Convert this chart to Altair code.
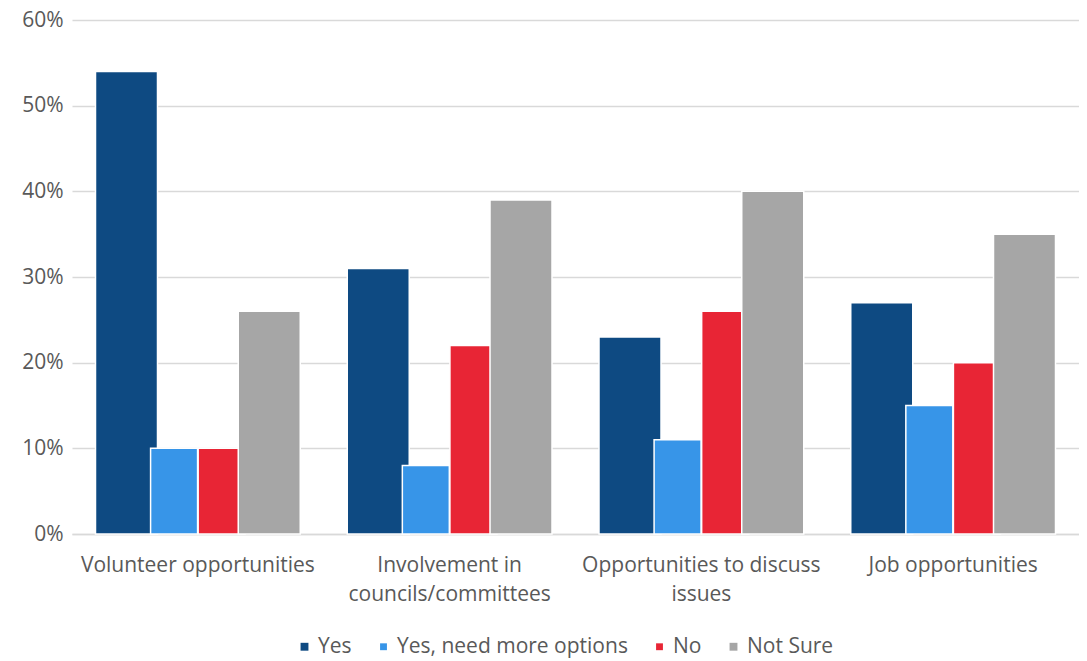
import altair as alt
import pandas as pd

categories = ["Volunteer opportunities", "Involvement in councils/committees",
              "Opportunities to discuss issues", "Job opportunities"]
label_lines = [["Volunteer opportunities"], ["Involvement in", "councils/committees"],
               ["Opportunities to discuss", "issues"], ["Job opportunities"]]
series = ["Yes", "Yes, need more options", "No", "Not Sure"]
yes = [54, 31, 23, 27]
yes_more = [10, 8, 11, 15]
no = [10, 22, 26, 20]
not_sure = [26, 39, 40, 35]
colors = ["#0E4A82", "#3795E8", "#E82535", "#A6A6A6"]
bar_widths = [62, 47, 47, 62]

rows = []
for i, c in enumerate(categories):
    for s, vals in zip(series, [yes, yes_more, no, not_sure]):
        rows.append({"category": c, "series": s, "value": vals[i] / 100})
df = pd.DataFrame(rows)

parts = []
for c, lines in zip(categories, label_lines):
    arr = "[" + ",".join("'" + l + "'" for l in lines) + "]"
    parts.append(f"datum.value == '{c}' ? {arr} : ")
label_expr = "".join(parts) + "datum.value"

FONT = "Open Sans"
GREY = "#595959"
FS = 21

chart = alt.Chart(df).mark_bar(stroke="white", strokeWidth=1.5).encode(
    x=alt.X("category:N", sort=categories, title=None,
            scale=alt.Scale(paddingInner=0.244, paddingOuter=0.122),
            axis=alt.Axis(labelAngle=0, labelExpr=label_expr, labelFontSize=FS,
                          labelFont=FONT, labelColor=GREY, labelLineHeight=29,
                          labelPadding=20, labelLimit=0, ticks=False, domain=True,
                          domainColor="#D9D9D9", domainWidth=1.5, labelBaseline="top")),
    xOffset=alt.XOffset("series:N", sort=series,
                        scale=alt.Scale(paddingInner=0, paddingOuter=0)),
    y=alt.Y("value:Q", title=None,
            scale=alt.Scale(domain=[0, 0.6]),
            axis=alt.Axis(format=".0%", values=[0, 0.1, 0.2, 0.3, 0.4, 0.5, 0.6],
                          labelFontSize=FS, labelFont=FONT, labelColor=GREY,
                          labelPadding=9, ticks=False, domain=False,
                          gridColor="#D9D9D9", gridWidth=1.5)),
    color=alt.Color("series:N", sort=series,
                    scale=alt.Scale(domain=series, range=colors),
                    legend=alt.Legend(title=None, orient="none", direction="horizontal",
                                      legendX=222, legendY=616,
                                      symbolType="square", symbolSize=110,
                                      symbolStrokeWidth=0, labelFontSize=FS,
                                      labelFont=FONT, labelColor=GREY, labelLimit=0,
                                      columnPadding=21, labelOffset=3)),
    size=alt.Size("series:N", sort=series,
                  scale=alt.Scale(type="ordinal", domain=series, range=bar_widths),
                  legend=None),
    order=alt.Order("series_order:Q"),
).transform_calculate(
    series_order=f"indexof({series!r}, datum.series)"
).properties(
    width=1007, height=514,
    background="white",
    autosize=alt.AutoSizeParams(type="none"),
    padding={"left": 64, "top": 12, "right": 0, "bottom": 124},
).configure_view(stroke=None)

chart.save("out.html", embed_options={"renderer": "svg", "actions": False})
